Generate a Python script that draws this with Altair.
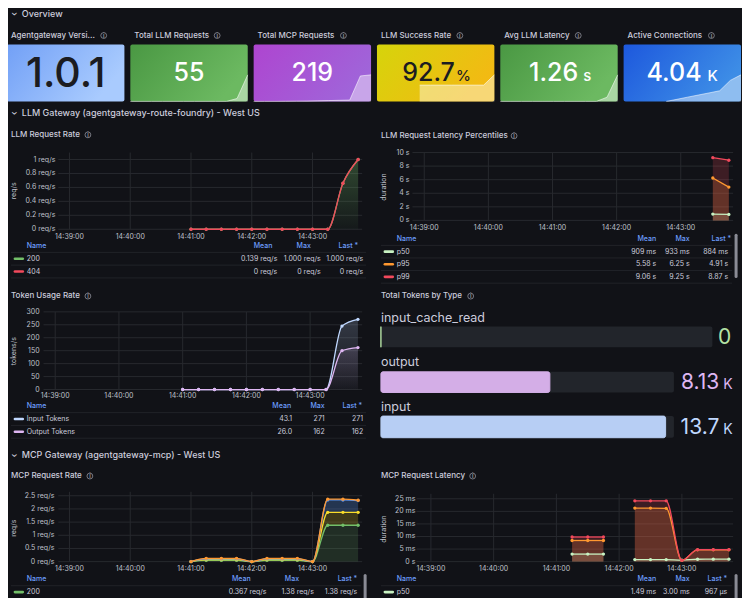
import altair as alt
import pandas as pd

# ------------------------------------------------------------------ values
SECTIONS = ["Overview", "LLM Gateway (agentgateway-route-foundry) - West US",
            "MCP Gateway (agentgateway-mcp) - West US"]

STAT_TITLES = ["Agentgateway Versi...", "Total LLM Requests", "Total MCP Requests",
               "LLM Success Rate", "Avg LLM Latency", "Active Connections"]
STAT_VALUES = ["1.0.1", "55", "219", "92.7", "1.26", "4.04"]
STAT_UNITS = ["", "", "", "%", "s", "K"]
SPARK_INDEX = [0, 1, 2, 3, 4, 5, 6, 7, 8, 9, 10, 11]
SPARK_LLM_REQ = [0, 0, 0, 0, 0, 0, 0, 0, 0, 0, 6, 55]
SPARK_MCP_REQ = [0, 0, 0, 1, 2, 3, 5, 7, 9, 11, 210, 219]
SPARK_SUCCESS = [None, None, None, None, 88.0, 88.0, 88.0, 88.0, 88.0, 88.0, 88.0, 92.7]
SPARK_LATENCY = [0, 0, 0, 0, 0, 0, 0, 0, 0, 0, 0.2, 1.26]
SPARK_CONN = [None, None, None, None, 0, 0.32, 0.65, 0.97, 1.29, 1.62, 3.2, 4.04]

PANEL_TITLES = ["LLM Request Rate", "LLM Request Latency Percentiles", "Token Usage Rate",
                "Total Tokens by Type", "MCP Request Rate", "MCP Request Latency"]
TABLE_HEADERS = ["Name", "Mean", "Max", "Last *"]

TICK_TIMES = ["14:39:00", "14:40:00", "14:41:00", "14:42:00", "14:43:00"]
SAMPLE_TIMES = ["14:41:00", "14:41:15", "14:41:30", "14:41:45", "14:42:00", "14:42:15",
                "14:42:30", "14:42:45", "14:43:00", "14:43:15", "14:43:30", "14:43:45"]

LLM_RATE_200 = [0, 0, 0, 0, 0, 0, 0, 0, 0, 0, 0.66, 1.0]
LLM_RATE_404 = [0, 0, 0, 0, 0, 0, 0, 0, 0, 0, 0, 0]
LLM_RATE_TICKS = [0, 0.2, 0.4, 0.6, 0.8, 1.0]
LLM_RATE_LABELS = ["0 req/s", "0.2 req/s", "0.4 req/s", "0.6 req/s", "0.8 req/s", "1 req/s"]
LLM_RATE_TABLE = [["200", "0.139 req/s", "1.000 req/s", "1.000 req/s"],
                  ["404", "0 req/s", "0 req/s", "0 req/s"]]

LAT_TIMES = ["14:43:30", "14:43:45"]
LAT_P50 = [0.933, 0.884]
LAT_P95 = [6.25, 4.91]
LAT_P99 = [9.25, 8.87]
LAT_TICKS = [0, 2, 4, 6, 8, 10]
LAT_LABELS = ["0 s", "2 s", "4 s", "6 s", "8 s", "10 s"]
LAT_TABLE = [["p50", "909 ms", "933 ms", "884 ms"],
             ["p95", "5.58 s", "6.25 s", "4.91 s"],
             ["p99", "9.06 s", "9.25 s", "8.87 s"]]

TOK_INPUT = [0, 0, 0, 0, 0, 0, 0, 0, 0, 0, 245, 271]
TOK_OUTPUT = [0, 0, 0, 0, 0, 0, 0, 0, 0, 0, 150, 162]
TOK_TICKS = [0, 50, 100, 150, 200, 250, 300]
TOK_LABELS = ["0", "50", "100", "150", "200", "250", "300"]
TOK_TABLE = [["Input Tokens", "43.1", "271", "271"],
             ["Output Tokens", "26.0", "162", "162"]]

TOKEN_TYPES = ["input_cache_read", "output", "input"]
TOKEN_TOTALS = [0, 8130, 13700]
TOKEN_TEXT = ["0", "8.13", "13.7"]
TOKEN_UNITS = ["", "K", "K"]
TOKEN_MAX = 14100

MCP_200 = [0, 0.044, 0.044, 0.044, 0, 0.044, 0.044, 0.044, 0, 1.38, 1.38, 1.38]
MCP_S2 = [0, 0.03, 0.03, 0.03, 0, 0.03, 0.03, 0.03, 0, 0.49, 0.49, 0.49]
MCP_S3 = [0, 0.03, 0.03, 0.03, 0, 0.03, 0.03, 0.03, 0, 0.47, 0.47, 0.45]
MCP_S4 = [0, 0.02, 0.02, 0.02, 0, 0.02, 0.02, 0.02, 0, 0.03, 0.03, 0.01]
MCP_RATE_TICKS = [0, 0.5, 1, 1.5, 2, 2.5]
MCP_RATE_LABELS = ["0 req/s", "0.5 req/s", "1 req/s", "1.5 req/s", "2 req/s", "2.5 req/s"]
MCP_RATE_TABLE = [["200", "0.367 req/s", "1.38 req/s", "1.38 req/s"]]

MCP_LAT_TIMES = ["14:41:15", "14:41:30", "14:41:45", "14:42:15", "14:42:30", "14:42:45",
                 "14:43:00", "14:43:15", "14:43:30", "14:43:45"]
MCP_LAT_SEGMENT = [1, 1, 1, 2, 2, 2, 2, 2, 2, 2]
MCP_P50 = [3.0, 3.0, 3.0, 0.8, 0.8, 0.8, 0.6, 0.95, 0.96, 0.967]
MCP_P95 = [8.4, 8.4, 8.4, 21.3, 21.3, 21.2, 0.5, 4.7, 4.7, 4.7]
MCP_P99 = [9.8, 9.8, 9.8, 24.2, 24.2, 24.2, 0.5, 4.8, 4.8, 4.8]
MCP_LAT_TICKS = [0, 5, 10, 15, 20, 25]
MCP_LAT_LABELS = ["0 s", "5 ms", "10 ms", "15 ms", "20 ms", "25 ms"]
MCP_LAT_TABLE = [["p50", "1.49 ms", "3.00 ms", "967 µs"]]

# ------------------------------------------------------------------ styles
BG = "#111217"
TXT = "#ccccdc"
AXIS = "#bfc0ca"
GRID = "#27292e"
SEP = "#212328"
HDR = "#6e9fff"
ICON = "#8f909b"
FONT = "Inter"
GREEN, RED, ORANGE, YELLOW, BLUE = "#73BF69", "#F2495C", "#FF9830", "#FADE2A", "#5794F2"
P50C, INC, OUTC, CACHEC = "#C8F2C2", "#C0D8FF", "#DEB6F2", "#B5E3A6"


def X(p):
    return round((p - 4) * 734 / 744, 2)


def Y(p):
    return round((p - 3) * 590 / 600, 2)


def sec(s):
    h, m, x = (int(v) for v in s.split(":"))
    return h * 3600 + m * 60 + x


T0, T1 = sec("14:38:49"), sec("14:43:49")
DUMMY = pd.DataFrame({"d": [0]})
L = []


def rgba(c, a):
    return "rgba(%d,%d,%d,%.3f)" % (int(c[1:3], 16), int(c[3:5], 16), int(c[5:7], 16), a)


def hgrad(c1, c2):
    return alt.LinearGradient(gradient="linear", x1=0, x2=1, y1=0, y2=0.4,
                              stops=[alt.GradientStop(color=c1, offset=0),
                                     alt.GradientStop(color=c2, offset=1)])


def vgrad(c, a1, a2):
    return alt.LinearGradient(gradient="linear", x1=0, x2=0, y1=0, y2=1,
                              stops=[alt.GradientStop(color=rgba(c, a1), offset=0),
                                     alt.GradientStop(color=rgba(c, a2), offset=1)])


def txt(s, x, y, size, color=TXT, align="left", baseline="middle", weight=400, angle=None):
    kw = dict(text=s, fontSize=size, color=color, align=align, baseline=baseline,
              font=FONT, fontWeight=weight)
    if angle is not None:
        kw["angle"] = angle
    return alt.Chart(DUMMY).mark_text(**kw).encode(x=alt.value(X(x)), y=alt.value(Y(y)))


def icon(x, y):
    return [alt.Chart(DUMMY).mark_point(shape="circle", filled=False, size=34, color=ICON,
                                        strokeWidth=0.8, opacity=1)
            .encode(x=alt.value(X(x)), y=alt.value(Y(y))),
            txt("i", x, y + 0.3, 5.5, ICON, align="center", weight=700)]


def title(s, x, y, ix, size=8):
    return [txt(s, x, y, size, TXT, weight=500)] + icon(ix, y)


# ------------------------------------------------------------------ section headers
for s, y in zip(SECTIONS, [9, 110, 458]):
    L.append(txt("›", 10, y, 10, TXT, align="center", angle=90, weight=500))
    L.append(txt(s, 18, y, 9, TXT, weight=500))

# ------------------------------------------------------------------ stat panels
BOX_X0 = [3, 128, 253, 378, 503, 628]
BOX_W = 119
BOX_FILL = [("#72a0f6", "#a9cbfe"), ("#4a9843", "#6cb961"), ("#ae45d0", "#a064d9"),
            ("#d6d40b", "#f2ba13"), ("#4a9843", "#6cb961"), ("#1d58dd", "#3d8de6")]
VALUE_COLOR = ["#1b1c21", "#ffffff", "#ffffff", "#1b1c21", "#ffffff", "#ffffff"]
ICON_X = [101, 216, 344, 462, 582, 717]
SPARKS = [None, SPARK_LLM_REQ, SPARK_MCP_REQ, SPARK_SUCCESS, SPARK_LATENCY, SPARK_CONN]
SPARK_DOM = [None, [0, 55], [0, 219], [80.5, 92.7], [0, 1.26], [0, 4.04]]
UNIT_GAP = [0, 0, 0, 80, 84, 85]

for i in range(6):
    x0 = BOX_X0[i]
    x1 = x0 + BOX_W
    L += title(STAT_TITLES[i], x0 + 4, 31, ICON_X[i])
    L.append(alt.Chart(DUMMY).mark_rect(color=hgrad(*BOX_FILL[i]), cornerRadius=2)
             .encode(x=alt.value(X(x0)), x2=alt.value(X(x1)), y=alt.value(Y(40)), y2=alt.value(Y(98))))
    if SPARKS[i] is not None:
        sp = pd.DataFrame({"i": SPARK_INDEX, "v": SPARKS[i]})
        xs = alt.Scale(domain=[0, 11], range=[X(x0), X(x1)], nice=False, zero=False)
        ys = alt.Scale(domain=SPARK_DOM[i], range=[Y(98), Y(71)], nice=False, zero=False)
        enc = dict(x=alt.X("i:Q", scale=xs, axis=None), y=alt.Y("v:Q", scale=ys, axis=None))
        L.append(alt.Chart(sp).mark_area(color="#ffffff", opacity=0.42)
                 .encode(**enc, y2=alt.datum(SPARK_DOM[i][0])))
        L.append(alt.Chart(sp).mark_line(color="#ffffff", opacity=0.55, strokeWidth=1).encode(**enc))
    if i == 0:
        L.append(txt(STAT_VALUES[i], (x0 + x1) / 2, 83, 41, VALUE_COLOR[i], align="center",
                     baseline="alphabetic", weight=500))
    elif STAT_UNITS[i] == "":
        L.append(txt(STAT_VALUES[i], (x0 + x1) / 2, 77.5, 25, VALUE_COLOR[i], align="center",
                     baseline="alphabetic", weight=500))
    else:
        L.append(txt(STAT_VALUES[i], x0 + 79, 77.5, 25, VALUE_COLOR[i], align="right",
                     baseline="alphabetic", weight=500))
        L.append(txt(STAT_UNITS[i], x0 + UNIT_GAP[i], 77.5, 15, VALUE_COLOR[i], align="left",
                     baseline="alphabetic", weight=500))


# ------------------------------------------------------------------ time series panels
def ts_panel(xl, xr, yb, yt, ydom, ticks, labels, lab_x, xlab_y, series, gx0=None):
    xs = alt.Scale(domain=[T0, T1], range=[X(xl), X(xr)], nice=False, zero=False)
    ys = alt.Scale(domain=ydom, range=[Y(yb), Y(yt)], nice=False, zero=False)
    out = []
    out.append(alt.Chart(pd.DataFrame({"v": ticks})).mark_rule(color=GRID, strokeWidth=1)
               .encode(y=alt.Y("v:Q", scale=ys, axis=None),
                       x=alt.value(X(gx0 if gx0 else xl)), x2=alt.value(X(xr))))
    tt = pd.DataFrame({"t": [sec(s) for s in TICK_TIMES], "lab": TICK_TIMES})
    out.append(alt.Chart(tt).mark_rule(color=GRID, strokeWidth=1)
               .encode(x=alt.X("t:Q", scale=xs, axis=None), y=alt.value(Y(yt)), y2=alt.value(Y(yb))))
    out.append(alt.Chart(pd.DataFrame({"v": ticks, "lab": labels}))
               .mark_text(align="right", baseline="middle", fontSize=7, color=AXIS, font=FONT)
               .encode(y=alt.Y("v:Q", scale=ys, axis=None), x=alt.value(X(lab_x)), text="lab:N"))
    out.append(alt.Chart(tt).mark_text(align="center", baseline="middle", fontSize=7, color=AXIS, font=FONT)
               .encode(x=alt.X("t:Q", scale=xs, axis=None), y=alt.value(Y(xlab_y)), text="lab:N"))
    fills, strokes = [], []
    for s in series:
        df = s["df"]
        enc = dict(x=alt.X("t:Q", scale=xs, axis=None), y=alt.Y("hi:Q", scale=ys, axis=None))
        f = s.get("fill")
        if f is not None:
            if isinstance(f, tuple):
                m = alt.Chart(df).mark_area(interpolate="monotone", color=f[0], opacity=f[1])
            else:
                m = alt.Chart(df).mark_area(interpolate="monotone", color=f)
            fills.append(m.encode(**enc, y2="lo:Q", detail="seg:N"))
        strokes.append(alt.Chart(df).mark_line(interpolate="monotone", color=s["color"], strokeWidth=1.3)
                       .encode(**enc, detail="seg:N"))
        strokes.append(alt.Chart(df).mark_point(filled=True, size=11, color=s["color"], opacity=1)
                       .encode(**enc))
    return out + fills + strokes


def sdf(times, hi, lo=None, seg=None):
    n = len(times)
    return pd.DataFrame({"t": [sec(t) for t in times], "hi": hi,
                         "lo": lo if lo is not None else [0] * n,
                         "seg": seg if seg is not None else [1] * n})


def table(rows, colors, name_x, sw, hdr_right, val_right, y0, step, sep):
    ys = alt.Scale(domain=[0, 1], range=[Y(y0), Y(y0 + step)], nice=False, zero=False)
    out = []
    seps = pd.DataFrame({"k": [k + 0.5 for k in range(len(rows) + 1)]})
    out.append(alt.Chart(seps).mark_rule(color=SEP, strokeWidth=1)
               .encode(y=alt.Y("k:Q", scale=ys, axis=None), x=alt.value(X(sep[0])), x2=alt.value(X(sep[1]))))
    out.append(txt(TABLE_HEADERS[0], name_x, y0, 7, HDR, weight=500))
    for h, rx in zip(TABLE_HEADERS[1:], hdr_right):
        out.append(txt(h, rx, y0, 7, HDR, align="right", weight=500))
    df = pd.DataFrame(rows, columns=["name", "mean", "max", "last"])
    df["k"] = list(range(1, len(rows) + 1))
    df["col"] = colors
    yenc = alt.Y("k:Q", scale=ys, axis=None)
    out.append(alt.Chart(df).mark_rule(strokeWidth=2.6, strokeCap="round")
               .encode(y=yenc, x=alt.value(X(sw[0])), x2=alt.value(X(sw[1])),
                       color=alt.Color("col:N", scale=None)))
    out.append(alt.Chart(df).mark_text(align="left", baseline="middle", fontSize=7, color=TXT, font=FONT)
               .encode(y=yenc, x=alt.value(X(name_x)), text="name:N"))
    for c, rx in zip(["mean", "max", "last"], val_right):
        out.append(alt.Chart(df).mark_text(align="right", baseline="middle", fontSize=7, color=TXT, font=FONT)
                   .encode(y=yenc, x=alt.value(X(rx)), text=c + ":N"))
    return out


def scrollbar(x, y0, y1):
    return alt.Chart(DUMMY).mark_rule(color="#8a8b95", strokeWidth=3, strokeCap="round").encode(
        x=alt.value(X(x)), y=alt.value(Y(y0)), y2=alt.value(Y(y1)))


# --- LLM Request Rate
c404 = [a + b for a, b in zip(LLM_RATE_200, LLM_RATE_404)]
L += title(PANEL_TITLES[0], 7, 132, 85)
L.append(txt("req/s", 10, 189, 7, AXIS, align="center", angle=270))
L += ts_panel(55, 363, 228, 150, [0, 1.1], LLM_RATE_TICKS, LLM_RATE_LABELS, 52, 236, [
    {"df": sdf(SAMPLE_TIMES, LLM_RATE_200), "color": GREEN, "fill": vgrad(GREEN, 0.32, 0.04)},
    {"df": sdf(SAMPLE_TIMES, c404, LLM_RATE_200), "color": RED},
])
L += table(LLM_RATE_TABLE, [GREEN, RED], 23, (11, 19), [272, 311, 359], [277, 321, 364], 245, 13, (7, 367))

# --- LLM Request Latency Percentiles
L += title(PANEL_TITLES[1], 382, 133, 517)
L.append(txt("duration", 385, 185, 7, AXIS, align="center", angle=270))
L += ts_panel(414, 739, 219, 150, [0, 10], LAT_TICKS, LAT_LABELS, 411, 227, [
    {"df": sdf(LAT_TIMES, LAT_P50), "color": P50C, "fill": (P50C, 0.2)},
    {"df": sdf(LAT_TIMES, LAT_P95), "color": ORANGE, "fill": (ORANGE, 0.2)},
    {"df": sdf(LAT_TIMES, LAT_P99), "color": RED, "fill": (RED, 0.2)},
])
L += table(LAT_TABLE, [P50C, ORANGE, RED], 398, (386, 394), [661, 695, 737], [661, 695, 734],
           238, 12.8, (382, 738))
L.append(scrollbar(742, 234, 276))

# --- Token Usage Rate
L += title(PANEL_TITLES[2], 7, 296, 85)
L.append(txt("tokens/s", 10, 352, 7, AXIS, align="center", angle=270))
L += ts_panel(40, 363, 391, 312, [0, 300], TOK_TICKS, TOK_LABELS, 36, 398, [
    {"df": sdf(SAMPLE_TIMES, TOK_INPUT), "color": INC, "fill": vgrad(INC, 0.2, 0.02)},
    {"df": sdf(SAMPLE_TIMES, TOK_OUTPUT), "color": OUTC, "fill": vgrad(OUTC, 0.15, 0.02)},
])
L += table(TOK_TABLE, [INC, OUTC], 23, (11, 19), [291, 325, 363], [292, 325, 364], 408, 13, (7, 367))

# --- Total Tokens by Type (bar gauge)
L += title(PANEL_TITLES[3], 382, 296, 473)
gs = alt.Scale(domain=[0, TOKEN_MAX], range=[X(382), X(679)], nice=False, zero=False)
GAUGE_COLORS = [CACHEC, OUTC, INC]
LABEL_BASE = [322, 367, 413]
TRACK = [(327, 348, 718), (373, 394, 679), (418, 440, 679)]
VALUE_BASE = [345, 390, 436]
for i in range(3):
    top, bot, tr = TRACK[i]
    L.append(txt(TOKEN_TYPES[i], 382, LABEL_BASE[i], 12.5, TXT, baseline="alphabetic"))
    L.append(alt.Chart(DUMMY).mark_rect(color="#22252b", cornerRadius=2)
             .encode(x=alt.value(X(382)), x2=alt.value(X(tr)), y=alt.value(Y(top)), y2=alt.value(Y(bot))))
    gd = pd.DataFrame({"v": [TOKEN_TOTALS[i]]})
    L.append(alt.Chart(gd).mark_rect(color=GAUGE_COLORS[i], stroke=GAUGE_COLORS[i], strokeWidth=1,
                                     cornerRadius=2, opacity=0.95)
             .encode(x=alt.X("v:Q", scale=gs, axis=None), x2=alt.datum(0),
                     y=alt.value(Y(top)), y2=alt.value(Y(bot))))
    if TOKEN_UNITS[i]:
        L.append(txt(TOKEN_TEXT[i], 725, VALUE_BASE[i], 21, GAUGE_COLORS[i], align="right", baseline="alphabetic"))
        L.append(txt(TOKEN_UNITS[i], 729, VALUE_BASE[i], 14, GAUGE_COLORS[i], align="left", baseline="alphabetic"))
    else:
        L.append(txt(TOKEN_TEXT[i], 737, VALUE_BASE[i], 21, GAUGE_COLORS[i], align="right", baseline="alphabetic"))

# --- MCP Request Rate (stacked)
m1 = MCP_200
m2 = [a + b for a, b in zip(m1, MCP_S2)]
m3 = [a + b for a, b in zip(m2, MCP_S3)]
m4 = [a + b for a, b in zip(m3, MCP_S4)]
L += title(PANEL_TITLES[4], 7, 479, 87)
L.append(txt("req/s", 10, 532, 7, AXIS, align="center", angle=270))
L += ts_panel(55, 363, 566, 495, [0, 2.65], MCP_RATE_TICKS, MCP_RATE_LABELS, 51, 574, [
    {"df": sdf(SAMPLE_TIMES, m1), "color": GREEN, "fill": (GREEN, 0.17)},
    {"df": sdf(SAMPLE_TIMES, m2, m1), "color": YELLOW, "fill": (YELLOW, 0.2)},
    {"df": sdf(SAMPLE_TIMES, m3, m2), "color": BLUE, "fill": (BLUE, 0.27)},
    {"df": sdf(SAMPLE_TIMES, m4, m3), "color": ORANGE, "fill": (ORANGE, 0.2)},
])
L += table(MCP_RATE_TABLE, [GREEN], 23, (11, 19), [250, 299, 358], [266, 314, 358], 584, 13, (7, 362))
L.append(scrollbar(366, 580, 606))

# --- MCP Request Latency
L += title(PANEL_TITLES[5], 382, 479, 475)
L.append(txt("duration", 385, 533, 7, AXIS, align="center", angle=270))
L += ts_panel(421, 739, 566, 497, [0, 27], MCP_LAT_TICKS, MCP_LAT_LABELS, 417, 573, [
    {"df": sdf(MCP_LAT_TIMES, MCP_P50, seg=MCP_LAT_SEGMENT), "color": P50C, "fill": (P50C, 0.2)},
    {"df": sdf(MCP_LAT_TIMES, MCP_P95, seg=MCP_LAT_SEGMENT), "color": ORANGE, "fill": (ORANGE, 0.2)},
    {"df": sdf(MCP_LAT_TIMES, MCP_P99, seg=MCP_LAT_SEGMENT), "color": RED, "fill": (RED, 0.2)},
], gx0=418)
L += table(MCP_LAT_TABLE, [P50C], 398, (386, 394), [661, 695, 733], [661, 695, 733], 584, 13, (382, 738))
L.append(scrollbar(742, 580, 606))

chart = (alt.layer(*L)
         .resolve_scale(x="independent", y="independent")
         .properties(width=734, height=590, background=BG, padding=0,
                     autosize=alt.AutoSizeParams(type="none"))
         .configure_view(stroke=None, fill=BG))

chart.save("out.html", embed_options={"renderer": "svg", "actions": False})
